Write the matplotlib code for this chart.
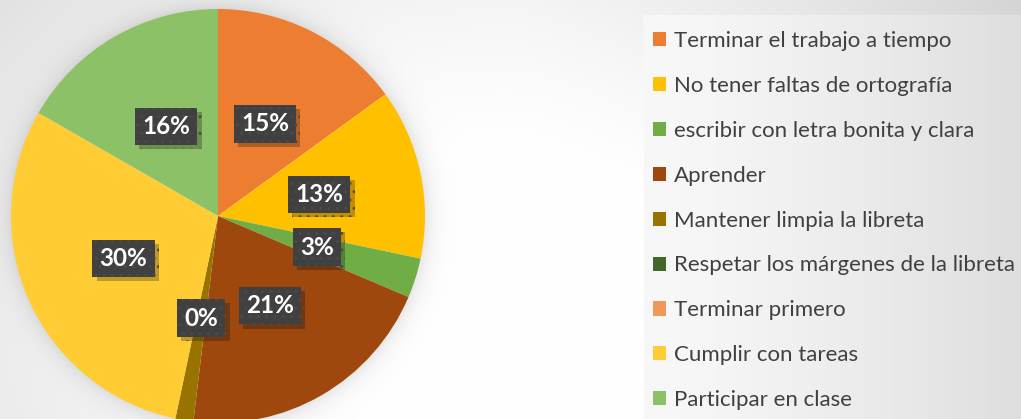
import numpy as np
import matplotlib
matplotlib.use("Agg")
import matplotlib.pyplot as plt
from matplotlib import patheffects

# ===== data =====
categories = [
    "Terminar el trabajo a tiempo",
    "No tener faltas de ortografía",
    "escribir con letra bonita y clara",
    "Aprender",
    "Mantener limpia la libreta",
    "Respetar los márgenes de la libreta",
    "Terminar primero",
    "Cumplir con tareas",
    "Participar en clase",
]
shares = [15.0, 13.3, 3.1, 20.5, 1.4, 0.0, 0.0, 30.0, 16.7]
pct_labels = ["15%", "13%", "3%", "21%", "0%", "", "", "30%", "16%"]
colors = ["#ED7D31", "#FFC000", "#70AD47", "#9E480E", "#997300",
          "#43682B", "#F1975A", "#FFCD33", "#8CC168"]

W, H = 1021, 419
plt.rcParams['font.family'] = ['Lato', 'DejaVu Sans']

fig = plt.figure(figsize=(W / 100, H / 100), dpi=100)

# ===== background: soft grey gradient, legend panel, pie shadow =====
yy, xx = np.mgrid[0:H, 0:W].astype(float)
d = np.sqrt(((xx - 500) / 560) ** 2 + ((yy - 300) / 420) ** 2)
bg = 255 - 40 * np.clip(d - 0.35, 0, None) ** 1.3
bg = np.where(xx > 520, bg - 12 * np.clip((xx - 520) / 500, 0, 1) * np.clip((200 - yy) / 200, 0, 1), bg)
panel = (xx >= 643) & (yy >= 16)
bg = np.where(panel, 248 - 26 * ((xx - 643) / 378) ** 1.3, bg)
# shadow around the pie
cx, cy, R = 218, 216, 207
dist = np.sqrt((xx - cx) ** 2 + (yy - cy) ** 2)
bg = bg - 22 * np.exp(-np.clip(dist - R, 0, None) / 10) * (dist > R - 3)
bg = np.clip(bg, 0, 255) / 255.0
img = np.dstack([bg, bg, bg])

bg_ax = fig.add_axes([0, 0, 1, 1])
bg_ax.imshow(img, extent=(0, W, H, 0), aspect='auto', interpolation='bilinear')
bg_ax.set_axis_off()

# ===== pie =====
ax = fig.add_axes([(cx - R) / W, (H - cy - R) / H, 2 * R / W, 2 * R / H])
wedges, texts = ax.pie(shares, colors=colors, startangle=90, counterclock=False,
                       labels=pct_labels, labeldistance=0.5, radius=1,
                       wedgeprops=dict(linewidth=0))
ax.set_xlim(-1, 1)
ax.set_ylim(-1, 1)
ax.set_aspect('equal')

for t in texts:
    if t.get_text() == "":
        continue
    t.set_ha('center')
    t.set_va('center')
    t.set_color('white')
    t.set_fontweight('bold')
    t.set_fontsize(17.5)
    t.set_bbox(dict(boxstyle='square,pad=0.3', fc='#404040', ec='#4a4a4a',
                    lw=0, hatch='..'))
    t.get_bbox_patch().set_path_effects(
        [patheffects.withSimplePatchShadow(offset=(3, -3), shadow_rgbFace='#000000', alpha=0.25)])

# ===== legend =====
fs = 16
leg = fig.legend(wedges, categories, loc='upper left',
                 bbox_to_anchor=(653 / W, 1 - 31 / H), frameon=False,
                 fontsize=fs, handlelength=0.6, handleheight=0.6,
                 handletextpad=0.35, labelspacing=1.12, borderpad=0,
                 borderaxespad=0, labelcolor='#404040')

fig.savefig("out.png", dpi=100)
